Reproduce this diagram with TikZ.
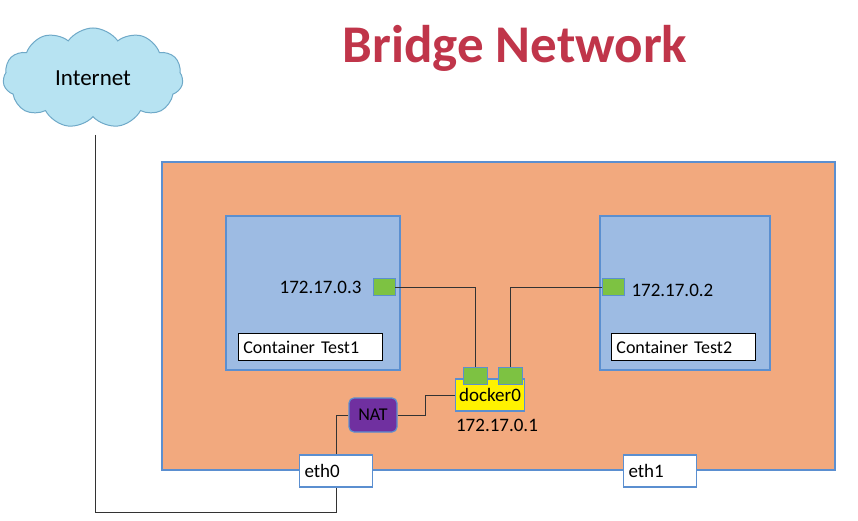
\documentclass[tikz,border=0pt]{standalone}
\usepackage{fontspec}
\setmainfont{Carlito}
\usetikzlibrary{shapes.symbols}
\definecolor{hostfill}{HTML}{F2A97E}
\definecolor{blueb}{HTML}{5B8FD0}
\definecolor{contfill}{HTML}{9DBBE3}
\definecolor{green}{HTML}{7DC242}
\definecolor{title}{HTML}{C0354A}
\definecolor{nat}{HTML}{7030A0}
\definecolor{cloudf}{HTML}{B7E3F2}
\definecolor{cloudb}{HTML}{6FA9C8}
\tikzset{
  box/.style={draw=blueb,line width=1.2pt},
  port/.style={draw=blueb,fill=green,line width=0.8pt,minimum width=22pt,minimum height=17pt,inner sep=0},
  lbl/.style={draw=black,fill=white,line width=0.8pt,minimum width=144pt,minimum height=27pt,inner sep=4pt,anchor=west,font=\fontsize{18}{20}\selectfont,text width=134pt},
  eth/.style={box,fill=white,minimum width=73pt,minimum height=32pt,inner sep=4pt,text width=63pt,font=\fontsize{19}{21}\selectfont},
  wire/.style={draw=black!80,line width=0.8pt},
  ip/.style={font=\fontsize{19}{21}\selectfont}
}
\begin{document}
\begin{tikzpicture}[x=1pt,y=-1pt]
\useasboundingbox[fill=white] (0,0) rectangle (858,521);
\node[cloud,cloud puffs=11,cloud puff arc=110,aspect=1.8,draw=cloudb,fill=cloudf,line width=1pt,minimum width=180pt,minimum height=100pt,font=\fontsize{23}{25}\selectfont] (inet) at (93,78) {Internet};
\node[font=\bfseries\fontsize{53}{60}\selectfont,text=title] (t) at (515,48) {Bridge Network};
\draw[box,fill=hostfill] (162,162) rectangle (835,470);
\node[box,fill=contfill,minimum width=174pt,minimum height=154pt,inner sep=0] (c1) at (313,293) {};
\node[box,fill=contfill,minimum width=170pt,minimum height=154pt,inner sep=0] (c2) at (685,293) {};
\node[lbl] (l1) at (238,347) {Container Test1};
\node[lbl] (l2) at (611,347) {Container Test2};
\node[port] (p1) at (384,287) {};
\node[port] (p2) at (613,287) {};
\node[ip,anchor=east] (ip1) at (365,287) {172.17.0.3};
\node[ip,anchor=west] (ip2) at (628,290) {172.17.0.2};
\node[box,fill=yellow,minimum width=69pt,minimum height=32pt,inner sep=0,font=\fontsize{19}{21}\selectfont] (d0) at (490,395) {\raisebox{-5pt}{docker0}};
\node[port,minimum width=24pt] (dp1) at (475,376) {};
\node[port,minimum width=24pt] (dp2) at (510,376) {};
\node[ip] (ip0) at (497,425) {172.17.0.1};
\node[box,fill=nat,rounded corners=5pt,minimum width=48pt,minimum height=34pt,inner sep=0,font=\fontsize{18}{20}\selectfont] (nat) at (373,415) {NAT};
\node[eth] (e0) at (336,471) {eth0};
\node[eth] (e1) at (660,471) {eth1};
\draw[wire] (p1.east) -| (dp1.north);
\draw[wire] (dp2.north) |- (p2.west);
\draw[wire] (nat.east) -- (425,415) |- (d0.west);
\draw[wire] (nat.west) -| (e0.north);
\draw[wire] (95,135) -- (95,512) -| (e0.south);
\end{tikzpicture}
\end{document}
